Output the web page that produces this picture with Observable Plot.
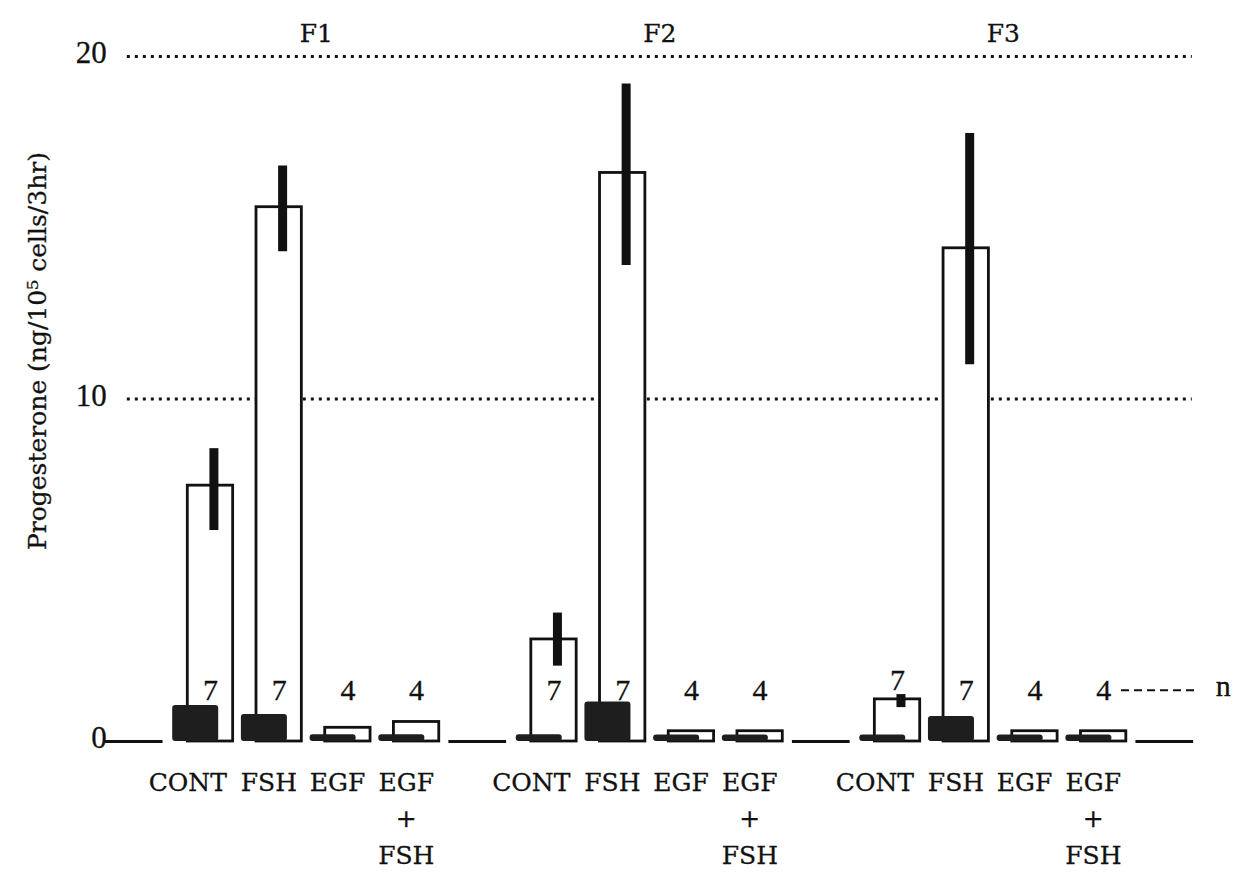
<!DOCTYPE html>
<html>
<head>
<meta charset="utf-8">
<script src="https://cdn.jsdelivr.net/npm/d3@7"></script>
<script src="https://cdn.jsdelivr.net/npm/@observablehq/plot@0.6"></script>
<style>
  html, body { margin: 0; padding: 0; background: #fff; }
  #chart svg { display: block; }
</style>
</head>
<body>
<div id="chart"></div>
<script>
// ---- Data ----
const groups = ["F1", "F2", "F3"];
const categories = ["CONT", "FSH", "EGF", "EGF\n+\nFSH"];
// open (outlined) bars, order: F1 x4, F2 x4, F3 x4
const openMean = [7.47, 15.6, 0.4, 0.57, 2.98, 16.6, 0.3, 0.3, 1.23, 14.4, 0.3, 0.3];
const openLow  = [6.16, 14.3, null, null, 2.2, 13.9, null, null, 0.99, 11.0, null, null];
const openHigh = [8.55, 16.8, null, null, 3.75, 19.2, null, null, 1.37, 17.75, null, null];
// filled (dark) bars
const darkMean = [1.05, 0.79, 0.2, 0.2, 0.2, 1.15, 0.19, 0.19, 0.19, 0.73, 0.19, 0.19];
// n per bar
const nCounts = [7, 7, 4, 4, 7, 7, 4, 4, 7, 7, 4, 4];
const yTicks = [0, 10, 20];
const gridTicks = [10, 20];
const yTitle = "Progesterone (ng/10\u2075 cells/3hr)";

// ---- Build table ----
const rows = groups.flatMap((g, gi) => categories.map((c, ci) => {
  const k = gi * categories.length + ci;
  return {
    group: g, category: c, ci, slot: gi * 5 + ci,
    open: openMean[k], lo: openLow[k], hi: openHigh[k],
    dark: darkMean[k], n: String(nCounts[k])
  };
}));
const gapSlots = [-1, 4, 9, 14];
const ink = "#111";
const serif = "DejaVu Serif";
const digits = "Liberation Serif";
const thick = {stroke: ink, strokeWidth: 0.3, fill: ink};

const nY = d => {
  const top = d.hi != null ? d.hi : d.open;
  return (top > 0.9 && top < 3 && d.open < 1.5) ? top + 0.4 : 1.5;
};

const chart = Plot.plot({
  width: 1233,
  height: 877,
  marginLeft: 65,
  marginRight: 0,
  marginTop: 56,
  marginBottom: 136,
  x: {domain: [-2, 15], axis: null},
  y: {domain: [0, 20], axis: null},
  style: {background: "#fff", color: ink},
  marks: [
    // dotted reference lines
    Plot.ruleY(gridTicks, {y: d => d, x1: -1.1, x2: 14.4, stroke: ink, strokeWidth: 2.8, strokeDasharray: "3,5"}),
    // baseline segments between groups
    Plot.ruleY(gapSlots, {y: 0, x1: d => d - 0.42, x2: d => d + 0.42, stroke: ink, strokeWidth: 2.8}),
    // open bars
    Plot.rect(rows, {x1: d => d.slot - 0.22, x2: d => d.slot + 0.44, y1: 0, y2: "open",
      fill: "#fff", stroke: ink, strokeWidth: 2.8}),
    // error bars
    Plot.ruleX(rows.filter(d => d.lo != null), {x: d => d.slot + 0.16, y1: "lo", y2: "hi",
      stroke: ink, strokeWidth: 9}),
    // dark bars
    Plot.rect(rows, {x1: d => d.slot - 0.44, x2: d => d.slot + 0.23, y1: 0, y2: "dark",
      fill: "#1e1e1e", rx: 3}),
    // n labels
    Plot.text(rows, {x: d => d.slot + 0.11, y: nY, text: "n", fontSize: 30,
      fontFamily: digits, ...thick}),
    // n legend
    Plot.ruleY([1.5], {y: d => d, x1: 13.37, x2: 14.48, stroke: ink, strokeWidth: 2, strokeDasharray: "8,5"}),
    Plot.text(["n"], {x: 14.85, y: 1.6, text: d => d, fontSize: 30, fontFamily: digits, ...thick}),
    // category labels
    Plot.text(rows, {x: d => d.slot + (d.ci === 0 ? -0.22 : -0.04), y: -0.7, text: "category",
      lineAnchor: "top", lineHeight: 1.45, fontSize: 25, fontFamily: serif, ...thick}),
    // group labels
    Plot.text(groups, {x: (d, i) => i * 5 + 1.65, y: 20.65, text: d => d, fontSize: 25,
      fontFamily: serif, ...thick}),
    // y tick labels
    Plot.text(yTicks, {x: -1.4, y: d => d, dy: -3, text: d => String(d), textAnchor: "end",
      fontSize: 31, fontFamily: digits, ...thick}),
    // y title
    Plot.text([yTitle], {x: -2.4, y: 11.4, text: d => d, rotate: -90, fontSize: 25,
      fontFamily: serif, ...thick})
  ]
});
document.getElementById("chart").appendChild(chart);
</script>
</body>
</html>
